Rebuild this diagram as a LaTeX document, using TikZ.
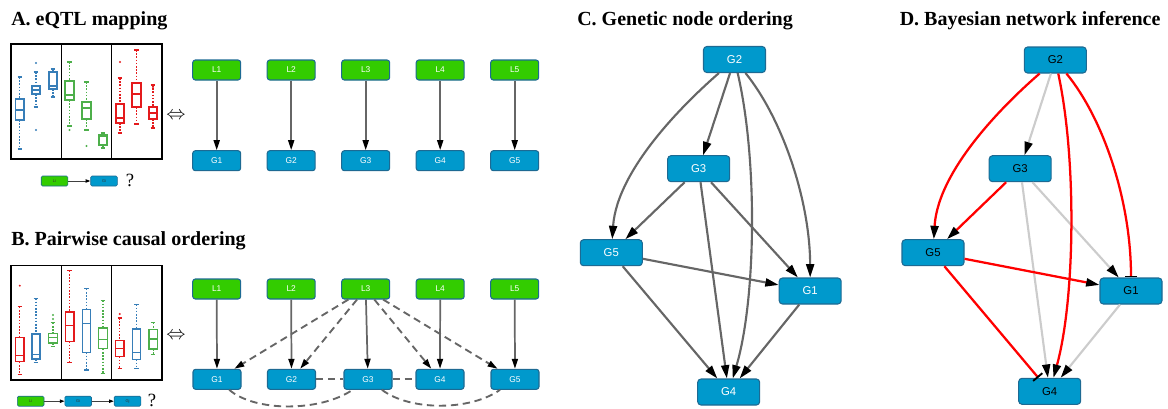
\documentclass[tikz,border=0pt]{standalone}
\usepackage{fontspec}
\setmainfont{Liberation Serif}
\setsansfont{Liberation Sans}
\usetikzlibrary{arrows.meta}
\definecolor{gblue}{HTML}{0099CC}
\definecolor{lgreen}{HTML}{33CC00}
\definecolor{nborder}{HTML}{1D6A93}
\definecolor{egray}{HTML}{666666}
\definecolor{lgray}{HTML}{CCCCCC}
\definecolor{bpblue}{HTML}{377EB8}
\definecolor{bpgreen}{HTML}{4DAF4A}
\definecolor{bpred}{HTML}{E41A1C}
\definecolor{ered}{HTML}{FF0000}

% boxplot: color, xleft, xright, whisker top, box top, median, box bottom, whisker bottom
\newcommand\bxp[8]{%
  \pgfmathsetmacro\bxm{(#2+#3)/2}%
  \draw[#1, line width=0.8pt] (#2,#5) rectangle (#3,#7);
  \draw[#1, line width=0.8pt] (#2,#6) -- (#3,#6);
  \draw[#1, line width=0.9pt, dash pattern=on 1.2pt off 1.2pt] (\bxm,#4) -- (\bxm,#5) (\bxm,#7) -- (\bxm,#8);
  \draw[#1, line width=1pt] (\bxm-2.3,#4) -- (\bxm+2.3,#4) (\bxm-2.3,#8) -- (\bxm+2.3,#8);
}
\newcommand\bxo[3]{\fill[#1] (#2,#3) circle (0.8pt);}

\begin{document}
\begin{tikzpicture}[x=0.75pt,y=-0.75pt,
  title/.style={font=\fontsize{15}{18}\selectfont\bfseries, anchor=base west, inner sep=0pt},
  smallbox/.style={draw=nborder, line width=0.8pt, rounded corners=2pt, minimum width=36pt, minimum height=15pt, inner sep=0pt, font=\fontsize{6.3}{7}\selectfont\sffamily, text=white},
  lbox/.style={smallbox, fill=lgreen},
  gbox/.style={smallbox, fill=gblue},
  bigbox/.style={draw=nborder, line width=0.8pt, rounded corners=2.5pt, fill=gblue, minimum width=46.5pt, minimum height=19.5pt, inner sep=0pt, font=\fontsize{8.5}{10}\selectfont\sffamily, text=white},
  dbox/.style={bigbox, text=black},
  legbox/.style={draw=nborder, line width=0.5pt, rounded corners=1pt, minimum width=20pt, minimum height=7.5pt, inner sep=0pt, font=\fontsize{3}{3.5}\selectfont\sffamily, text=black!80},
  tipA/.style={-{Triangle[length=7.5pt,width=4.5pt,color=black]}},
  tipC/.style={-{Triangle[length=10pt,width=6pt,color=black]}},
  tipBar/.style={-{Bar[width=9pt,line width=1.4pt,color=black]}},
  solidA/.style={draw=egray, line width=1.3pt, tipA},
  dashA/.style={draw=egray, line width=1.4pt, dash pattern=on 5.5pt off 3.5pt},
  edgeC/.style={draw=egray, line width=1.6pt, tipC},
  redE/.style={draw=ered, line width=1.7pt},
  grayE/.style={draw=lgray, line width=1.6pt},
  frame/.style={draw=black, line width=1pt},
  legarrow/.style={draw=black!75, line width=0.7pt, -{Triangle[length=3.5pt,width=2.5pt,color=black]}},
  equiv/.style={font=\fontsize{14}{14}\selectfont, inner sep=0pt},
  qmark/.style={font=\fontsize{14}{14}\selectfont, anchor=base west, inner sep=0pt}
]
\useasboundingbox (0,0) rectangle (1168,408);

% ---------------- Titles
\node[title] (tA) at (11,25.7) {A. eQTL mapping};
\node[title] (tB) at (11,245.7) {B. Pairwise causal ordering};
\node[title] (tC) at (577,25.7) {C. Genetic node ordering};
\node[title] (tD) at (899.5,25.7) {D. Bayesian network inference};

% ---------------- Panel A boxplots
\draw[frame] (11,44) rectangle (162,159);
\draw[frame] (61.3,44) -- (61.3,159);
\draw[frame] (111.7,44) -- (111.7,159);
\bxp{bpblue}{15.7}{24}{77}{99}{110}{120}{149}
\bxp{bpblue}{32}{40}{72}{86}{90}{94}{107}
\bxo{bpblue}{36}{63}\bxo{bpblue}{36}{130}
\bxp{bpblue}{49}{57}{69}{72}{86}{89}{97}
\bxp{bpgreen}{65}{74}{62}{81}{95}{100}{126}
\bxo{bpgreen}{69.5}{130}
\bxp{bpgreen}{82}{91}{82}{102}{108}{119}{130}
\bxo{bpgreen}{86.5}{146}
\bxp{bpgreen}{99}{107}{133}{135}{136}{145}{148}
\bxp{bpred}{116}{124}{78}{104}{118}{123}{133}
\bxo{bpred}{120}{62}
\bxp{bpred}{132}{141}{50}{83}{94}{107}{124}
\bxp{bpred}{149}{157}{85}{107}{113}{119}{128}
\bxo{bpred}{153}{87}

\node[equiv] (eqA) at (176,116) {$\Leftrightarrow$};

% legend A
\node[legbox, fill=lgreen] (aLi) at (54.5,181) {Li};
\node[legbox, fill=gblue] (aGi) at (104,181) {Gi};
\draw[legarrow] (aLi) -- (aGi);
\node[qmark] (aQ) at (125.5,186) {?};

% ---------------- Panel A graph
\foreach \i/\x in {1/216.7,2/291.2,3/365.7,4/440.2,5/514.7}{
  \node[lbox] (al\i) at (\x,70) {L\i};
  \node[gbox] (ag\i) at (\x,160.7) {G\i};
  \draw[solidA] (al\i) -- (ag\i);
}

% ---------------- Panel B boxplots
\draw[frame] (11,265.7) rectangle (162,380);
\draw[frame] (61.3,265.7) -- (61.3,380);
\draw[frame] (111.7,265.7) -- (111.7,380);
\bxp{bpred}{15.7}{24}{306.7}{337.7}{355.3}{361.7}{374.3}
\bxo{bpred}{19.8}{285.7}
\bxp{bpblue}{32}{40}{298.3}{334}{354.3}{359}{362.7}
\bxp{bpgreen}{48.7}{57.3}{322.7}{333.3}{337.3}{343}{346.7}
\bxo{bpgreen}{53}{315}\bxo{bpgreen}{53}{319}
\bxp{bpred}{65.3}{74}{270.7}{312}{325.3}{341.3}{362.7}
\bxp{bpblue}{82.3}{90.7}{288.7}{309.3}{323.3}{352.3}{370}
\bxp{bpgreen}{98.7}{107.3}{300.3}{328}{339.7}{348.7}{373.7}
\bxp{bpred}{115.7}{124}{318}{340.3}{348.3}{356.3}{368.3}
\bxo{bpred}{119.8}{314}
\bxp{bpblue}{132.3}{140.7}{304.3}{329}{352.7}{359.3}{368.3}
\bxp{bpgreen}{149}{157.3}{322.7}{329.7}{339}{349}{354.3}

\node[equiv] (eqB) at (176,336) {$\Leftrightarrow$};

% legend B
\node[legbox, fill=lgreen] (bLi) at (30.7,401.2) {Li};
\node[legbox, fill=gblue] (bGi) at (78.2,401.2) {Gi};
\node[legbox, fill=gblue] (bGj) at (127.5,401.2) {Gj};
\draw[legarrow] (bLi) -- (bGi);
\draw[legarrow] (bGi) -- (bGj);
\node[qmark] (bQ) at (147.5,406) {?};

% ---------------- Panel B graph
\foreach \i/\x/\gx in {1/216.7/217,2/291.2/291.5,3/365.7/368,4/440.2/440,5/514.7/515}{
  \node[lbox] (bl\i) at (\x,289) {L\i};
  \node[gbox] (bg\i) at (\gx,379.3) {G\i};
  \draw[solidA] (bl\i) -- (bg\i);
}
\draw[dashA, tipA] (bl3) -- (bg1);
\draw[dashA, tipA] (bl3) -- (bg2);
\draw[dashA, tipA] (bl3) -- (bg4);
\draw[dashA, tipA] (bl3) -- (bg5);
\draw[dashA] (bg2) -- (bg3);
\draw[dashA] (bg3) -- (bg4);
\draw[dashA] (bg1) .. controls (255,412) and (320,412) .. (bg3);
\draw[dashA] (bg3) .. controls (410,411) and (470,411) .. (bg5);

% ---------------- Panel C
\node[bigbox] (c2) at (734.5,59.5) {G2};
\node[bigbox] (c3) at (698.7,168.7) {G3};
\node[bigbox] (c5) at (611.3,252.7) {G5};
\node[bigbox] (c1) at (810.2,291) {G1};
\node[bigbox] (c4) at (728.7,392) {G4};

\draw[edgeC] (c2) .. controls (688,100) and (617,168) .. (c5);
\draw[edgeC] (c2) -- (c3);
\draw[edgeC] (c2) .. controls (758,160) and (756,300) .. (c4);
\draw[edgeC] (c2) .. controls (782,118) and (810,200) .. (c1);
\draw[edgeC] (c3) -- (c5);
\draw[edgeC] (c3) -- (c4);
\draw[edgeC] (c3) -- (c1);
\draw[edgeC] (c5) -- (c1);
\draw[edgeC] (c5) -- (c4);
\draw[edgeC] (c1) -- (c4);

% ---------------- Panel D
\node[dbox] (d2) at (1055.3,60) {G2};
\node[dbox] (d3) at (1020.2,168.7) {G3};
\node[dbox] (d5) at (933,252.7) {G5};
\node[dbox] (d1) at (1131,291) {G1};
\node[dbox] (d4) at (1049.7,391.3) {G4};

\draw[grayE, tipC] (d2) -- (d3);
\draw[grayE, tipC] (d3) -- (d4);
\draw[grayE, tipC] (d3) -- (d1);
\draw[grayE, tipC] (d1) -- (d4);
\draw[redE, tipC] (d2) .. controls (1009,100) and (938,168) .. (d5);
\draw[redE, tipC] (d2) .. controls (1077,160) and (1075,300) .. (d4);
\draw[redE, tipBar] (d2) .. controls (1103,118) and (1131,200) .. (d1);
\draw[redE, tipC] (d3) -- (d5);
\draw[redE, tipC] (d5) -- (d1);
\draw[redE, tipBar] (d5) -- (d4);

\end{tikzpicture}
\end{document}
